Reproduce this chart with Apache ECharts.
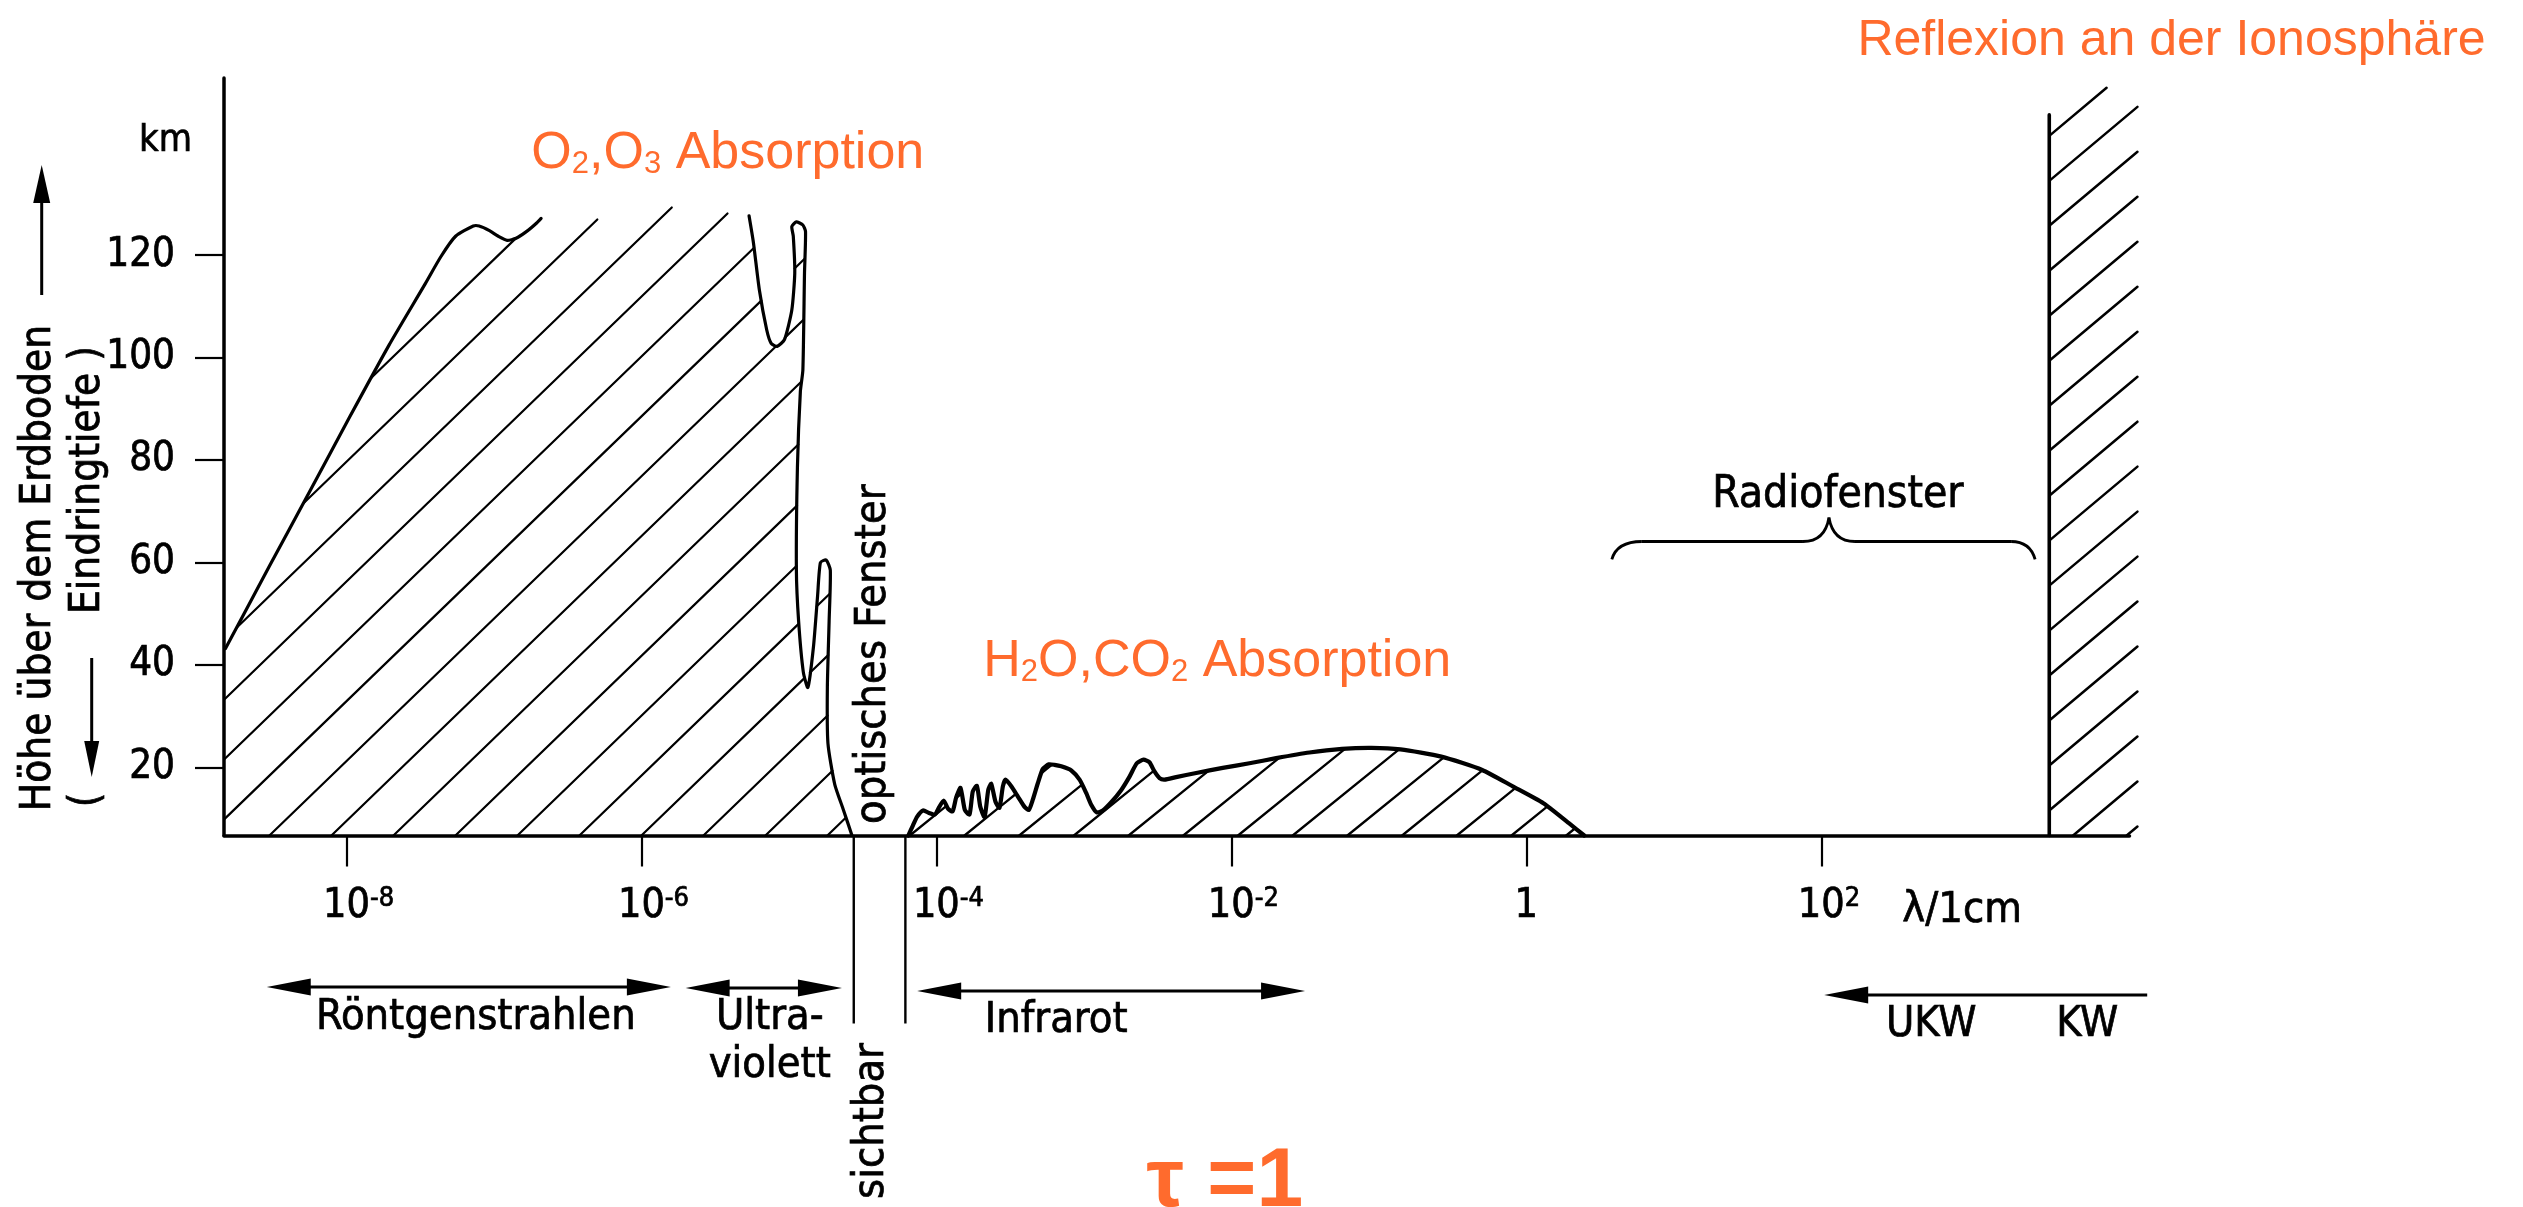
<!DOCTYPE html>
<html lang="de">
<head>
<meta charset="utf-8">
<title>Eindringtiefe elektromagnetischer Strahlung in die Erdatmosphäre</title>
<script src="https://cdn.jsdelivr.net/npm/echarts@6/dist/echarts.min.js"></script>
<style>
  html, body { margin: 0; padding: 0; background: #fff; }
  #chart { width: 2523px; height: 1207px; }
</style>
</head>
<body>
<div id="chart"></div>
<script>
// Height above ground (km) down to which radiation penetrates the atmosphere (tau = 1),
// against wavelength. The x axis is log10(lambda / 1 cm).

// ---- axes --------------------------------------------------------------
const X_MIN = -8.83, X_MAX = 4.09;      // log10(λ / cm)
const Y_MIN = 6.7,   Y_MAX = 154.6;     // km
const X_TICKS = [-8, -6, -4, -2, 0, 2];
const Y_TICKS = [20, 40, 60, 80, 100, 120];

// ---- O2/O3 absorption: [log10 λ, km] ----------------------------------
const O2_EDGE_XRAY = [
  [-8.82, 43.2], [-8.52, 59.4], [-8.25, 73.8], [-7.98, 88.3], [-7.71, 102.5],
  [-7.47, 114.2], [-7.36, 119.7], [-7.26, 123.7], [-7.14, 125.7], [-7.10, 125.7],
  [-7.03, 124.8], [-6.97, 123.7], [-6.91, 122.9], [-6.85, 123.3], [-6.78, 124.6],
  [-6.71, 126.3], [-6.68, 127.2]
];
const O2_EDGE_TOP = [[-6.33, 126.8], [-5.85, 129.5], [-5.47, 128.3]];
const O2_EDGE_UV = [
  [-5.27, 127.7], [-5.24, 122.4], [-5.20, 113.2], [-5.15, 105.4], [-5.12, 102.8],
  [-5.08, 102.2], [-5.03, 103.5], [-4.98, 109.3], [-4.96, 116.5], [-4.97, 123.7],
  [-4.98, 125.6], [-4.95, 126.5], [-4.905, 125.9], [-4.887, 124.6], [-4.894, 116.5],
  [-4.905, 97.6], [-4.922, 93.4], [-4.942, 78.5], [-4.949, 58.5], [-4.934, 48.6],
  [-4.902, 38.6], [-4.871, 35.6], [-4.833, 43.6], [-4.805, 53.6], [-4.786, 60.0],
  [-4.747, 60.5], [-4.719, 58.5], [-4.727, 48.6], [-4.739, 35.6], [-4.735, 24.7],
  [-4.689, 16.7], [-4.63, 11.7], [-4.572, 6.7]
];

// ---- H2O/CO2 absorption -------------------------------------------------
const IR_EDGE = [
  [-4.19, 6.7], [-4.16, 8.6], [-4.13, 10.4], [-4.09, 11.6], [-4.05, 11.1],
  [-4.01, 10.8], [-3.98, 12.3], [-3.95, 13.5], [-3.92, 11.9], [-3.89, 11.4],
  [-3.865, 14.2], [-3.836, 16.0], [-3.807, 11.7], [-3.775, 10.8], [-3.753, 15.3],
  [-3.725, 16.4], [-3.702, 12.3], [-3.673, 10.3], [-3.648, 15.6], [-3.628, 16.8],
  [-3.599, 13.3], [-3.572, 12.1], [-3.549, 16.3], [-3.531, 17.6], [-3.492, 16.3],
  [-3.447, 14.3], [-3.402, 12.3], [-3.373, 11.7], [-3.346, 13.7], [-3.312, 16.9],
  [-3.278, 19.7], [-3.237, 20.6], [-3.199, 20.5], [-3.153, 20.2], [-3.085, 19.4],
  [-3.029, 17.6], [-2.984, 15.0], [-2.950, 12.7], [-2.912, 11.2], [-2.871, 11.6],
  [-2.814, 13.2], [-2.746, 15.6], [-2.690, 18.2], [-2.641, 20.8], [-2.595, 21.5],
  [-2.555, 21.0], [-2.521, 19.2], [-2.487, 17.9], [-2.453, 17.6], [-2.374, 18.1],
  [-2.238, 18.9], [-2.058, 19.9], [-1.877, 20.8], [-1.696, 21.8], [-1.47, 22.9],
  [-1.25, 23.6], [-1.05, 23.8], [-0.853, 23.5], [-0.576, 22.1], [-0.299, 19.5],
  [-0.092, 16.3], [0.116, 13.0], [0.289, 9.1], [0.393, 6.7]
];

// ---- reflection at the ionosphere ----------------------------------------
const IONO_EDGE = [[3.546, 6.7], [3.546, 147.4]];
const IONO_FAR = [[3.95, 152.9], [4.144, 152.9], [4.144, 6.7]];

// ---- wavelength ranges, log10(λ / cm) -------------------------------------
const BAND_ROENTGEN = [-8.54, -5.80];
const BAND_UV = [-5.70, -4.64];
const BAND_VISIBLE = [-4.56, -4.21];
const BAND_IR = [-4.13, -1.50];
const BAND_RADIO = [0.58, 3.45];
const BAND_UKW_KW = [2.02, 4.21];

// ---- styling -------------------------------------------------------------
const INK = '#000';
const ORANGE = '#FF6B2D';
const LETTER = "'DejaVu Sans Condensed', 'DejaVu Sans', sans-serif";
const NOTE = "'Liberation Sans', Arial, sans-serif";
const INK_EDGE = 0.7;   // slight outline that gives the lettering its pen weight

const HATCH = {
  o2:   { angle: 44, spacing: 62,   anchor: [-8.522, Y_MIN], width: 2.2 },
  ir:   { angle: 39, spacing: 54.7, anchor: [-3.809, Y_MIN], width: 2.3 },
  iono: { angle: 40, spacing: 53.6, anchor: [3.546, 143.3],  width: 2.5 }
};

const REGIONS = [
  { outline: [[X_MIN, Y_MIN], ...O2_EDGE_XRAY, ...O2_EDGE_TOP, ...O2_EDGE_UV],
    edges: [O2_EDGE_XRAY, O2_EDGE_UV], edgeWidth: 3.2, smooth: 0.2, hatch: HATCH.o2 },
  { outline: IR_EDGE, edges: [IR_EDGE], edgeWidth: 4.2, smooth: 0.2, hatch: HATCH.ir },
  { outline: [...IONO_EDGE, ...IONO_FAR], edges: [IONO_EDGE], edgeWidth: 3.6, smooth: 0, hatch: HATCH.iono }
];

// parallel hatch lines clipped to a polygon (pixel space)
function hatchPath(pts, angleDeg, hSpacing, anchor) {
  const a = angleDeg * Math.PI / 180;
  const nx = Math.sin(a), ny = Math.cos(a);
  const dx = Math.cos(a), dy = -Math.sin(a);
  const step = hSpacing * Math.sin(a);
  const c0 = nx * anchor[0] + ny * anchor[1];
  let cmin = Infinity, cmax = -Infinity;
  pts.forEach(p => {
    const c = nx * p[0] + ny * p[1];
    cmin = Math.min(cmin, c); cmax = Math.max(cmax, c);
  });
  let d = '';
  for (let k = Math.ceil((cmin - c0) / step); k <= Math.floor((cmax - c0) / step); k++) {
    const c = c0 + k * step;
    const hits = [];
    for (let i = 0; i < pts.length; i++) {
      const p1 = pts[i], p2 = pts[(i + 1) % pts.length];
      const f1 = nx * p1[0] + ny * p1[1] - c, f2 = nx * p2[0] + ny * p2[1] - c;
      if ((f1 < 0) !== (f2 < 0)) {
        const t = f1 / (f1 - f2);
        const x = p1[0] + t * (p2[0] - p1[0]), y = p1[1] + t * (p2[1] - p1[1]);
        hits.push([dx * x + dy * y, x, y]);
      }
    }
    hits.sort((u, v) => u[0] - v[0]);
    for (let j = 0; j + 1 < hits.length; j += 2) {
      d += 'M' + hits[j][1].toFixed(2) + ' ' + hits[j][2].toFixed(2) +
           'L' + hits[j + 1][1].toFixed(2) + ' ' + hits[j + 1][2].toFixed(2);
    }
  }
  return d;
}

const measureCtx = document.createElement('canvas').getContext('2d');
function textWidth(str, font) { measureCtx.font = font; return measureCtx.measureText(str).width; }
const SUP_SIZE = 27;
const supFont = SUP_SIZE + 'px ' + LETTER;

const chart = echarts.init(document.getElementById('chart'), null, { renderer: 'canvas' });

const inkText = { textBorderColor: INK, textBorderWidth: INK_EDGE };

const option = {
  animation: false,
  backgroundColor: '#fff',
  grid: { left: 224, right: 393.5, top: 78, bottom: 371.5, containLabel: false, outerBoundsMode: 'none' },
  xAxis: {
    type: 'value', min: X_MIN, max: X_MAX,
    axisLine: { show: true, onZero: false, lineStyle: { color: INK, width: 3.5 } },
    axisTick: { show: true, customValues: X_TICKS, length: 31, lineStyle: { color: INK, width: 2.2 } },
    axisLabel: {
      customValues: X_TICKS, margin: 50, color: INK,
      formatter: v => v === 0 ? '{b|1}' : '{' + (v < 0 ? 'gn' : 'gp') + '|}{b|10}{s|' + v + '}',
      rich: {
        b: Object.assign({ fontSize: 41, lineHeight: 42, fontFamily: LETTER, color: INK }, inkText),
        s: Object.assign({ fontSize: SUP_SIZE, lineHeight: SUP_SIZE, verticalAlign: 'top', fontFamily: LETTER, color: INK }, inkText),
        gn: { width: textWidth('-8', supFont) },
        gp: { width: textWidth('2', supFont) }
      }
    },
    splitLine: { show: false }
  },
  yAxis: {
    type: 'value', min: Y_MIN, max: Y_MAX,
    axisLine: { show: true, onZero: false, lineStyle: { color: INK, width: 3.5 } },
    axisTick: { show: true, customValues: Y_TICKS, length: 29, lineStyle: { color: INK, width: 2.2 } },
    axisLabel: Object.assign({ customValues: Y_TICKS, margin: 49, color: INK, fontSize: 40, fontFamily: LETTER }, inkText),
    splitLine: { show: false }
  },
  series: [{
    type: 'custom',
    coordinateSystem: 'cartesian2d',
    silent: true,
    clip: false,
    data: REGIONS.map((r, i) => [r.outline[0][0], r.outline[0][1], i]),
    encode: { x: 0, y: 1 },
    renderItem: (params, api) => {
      const r = REGIONS[params.dataIndex];
      const toPx = p => api.coord(p);
      const poly = r.outline.map(toPx);
      const children = [{
        type: 'path',
        shape: { pathData: hatchPath(poly, r.hatch.angle, r.hatch.spacing, toPx(r.hatch.anchor)) },
        style: { stroke: INK, lineWidth: r.hatch.width, fill: null, lineCap: 'round' }
      }];
      r.edges.forEach(e => children.push({
        type: 'polyline',
        shape: { points: e.map(toPx), smooth: r.smooth },
        style: { stroke: INK, lineWidth: r.edgeWidth, fill: null, lineJoin: 'round', lineCap: 'round' }
      }));
      return { type: 'group', children };
    }
  }]
};
chart.setOption(option);

// ---- annotations, placed from the axis scales -----------------------------
const P = (x, y) => chart.convertToPixel({ xAxisIndex: 0, yAxisIndex: 0 }, [x, y]);
const X = d => P(d, Y_MIN)[0];
const baseY = P(X_MIN, Y_MIN)[1];
const axisX = P(X_MIN, Y_MIN)[0];
const topY = P(X_MIN, Y_MAX)[1];

const g = [];
const seg = (x1, y1, x2, y2, w) => ({ type: 'line', silent: true, shape: { x1, y1, x2, y2 }, style: { stroke: INK, lineWidth: w } });
const head = (tx, ty, ux, uy, len, half) => {
  const bx = tx - ux * len, by = ty - uy * len;
  return { type: 'polygon', silent: true,
    shape: { points: [[tx, ty], [bx - uy * half, by + ux * half], [bx + uy * half, by - ux * half]] },
    style: { fill: INK } };
};
const txt = (x, y, text, font, o = {}) => {
  const ink = !o.fill;
  return {
    type: 'text', silent: true, x, y, rotation: o.rot || 0,
    style: {
      text, font, fill: o.fill || INK, align: o.align || 'center', verticalAlign: 'middle', rich: o.rich,
      stroke: ink ? INK : null, lineWidth: ink ? INK_EDGE : 0
    }
  };
};
const ROT = Math.PI / 2;

// y axis title
g.push(txt(axisX - 185, 568, 'Höhe über dem Erdboden', '42px ' + LETTER, { rot: ROT }));
g.push(seg(axisX - 182.3, 295, axisX - 182.3, 200, 3));
g.push(head(axisX - 182.3, topY + 87, 0, -1, 38, 8.5));
g.push(txt(axisX - 136, 480, 'Eindringtiefe )', '42px ' + LETTER, { rot: ROT }));
g.push(txt(axisX - 136, 800, '(', '42px ' + LETTER, { rot: ROT }));
g.push(seg(axisX - 132.3, 658, axisX - 132.3, 745, 3));
g.push(head(axisX - 132.3, 777, 0, 1, 36, 7.5));
g.push(txt(axisX - 85, topY + 63.5, 'km', '38px ' + LETTER, { align: 'left' }));

// x axis name
g.push(txt(X(2.55), baseY + 75.5, 'λ/1cm', '43px ' + LETTER, { align: 'left' }));

// wavelength ranges below the axis
function doubleArrow(band, y, both) {
  const x1 = X(band[0]), x2 = X(band[1]);
  g.push(seg(x1 + 30, y, both ? x2 - 30 : x2, y, 3.2));
  g.push(head(x1, y, -1, 0, 44, 8.5));
  if (both) g.push(head(x2, y, 1, 0, 44, 8.5));
}
doubleArrow(BAND_ROENTGEN, baseY + 151.5, true);
doubleArrow(BAND_UV, baseY + 152.5, true);
doubleArrow(BAND_IR, baseY + 155.5, true);
doubleArrow(BAND_UKW_KW, baseY + 159.5, false);

g.push(txt((X(BAND_ROENTGEN[0]) + X(BAND_ROENTGEN[1])) / 2 + 7, baseY + 182, 'Röntgenstrahlen', '43px ' + LETTER));
g.push(txt((X(BAND_UV[0]) + X(BAND_UV[1])) / 2 + 6, baseY + 182, 'Ultra-', '43px ' + LETTER));
g.push(txt((X(BAND_UV[0]) + X(BAND_UV[1])) / 2 + 6, baseY + 230, 'violett', '43px ' + LETTER));
g.push(txt(X(BAND_IR[0]) + 139, baseY + 185, 'Infrarot', '43px ' + LETTER));
g.push(txt(X(BAND_UKW_KW[0]) + 107, baseY + 189.5, 'UKW', '43px ' + LETTER));
g.push(txt(X(BAND_UKW_KW[0]) + 263, baseY + 189.5, 'KW', '43px ' + LETTER));

// visible window
BAND_VISIBLE.forEach(d => g.push(seg(X(d), baseY, X(d), baseY + 188, 2.4)));
const visMid = (X(BAND_VISIBLE[0]) + X(BAND_VISIBLE[1])) / 2;
g.push(txt(visMid - 6, P(0, 42.1)[1], 'optisches Fenster', '43px ' + LETTER, { rot: ROT }));
g.push(txt(visMid - 8, baseY + 285.5, 'sichtbar', '43px ' + LETTER, { rot: ROT }));

// radio window brace
(function () {
  const xL = X(BAND_RADIO[0]), xR = X(BAND_RADIO[1]);
  const xP = xL + 0.513 * (xR - xL);
  const yEnd = P(0, 60.6)[1], yFlat = P(0, 64.1)[1], yPeak = P(0, 68.8)[1];
  const st = { stroke: INK, lineWidth: 2.8, fill: null };
  const bz = (x1, y1, cx, cy, x2, y2) => ({ type: 'bezierCurve', silent: true, shape: { x1, y1, cpx1: cx, cpy1: cy, x2, y2 }, style: st });
  g.push(bz(xL, yEnd, xL + 5, yFlat, xL + 30, yFlat));
  g.push(seg(xL + 30, yFlat, xP - 26, yFlat, 2.8));
  g.push(bz(xP - 26, yFlat, xP - 4, yFlat, xP, yPeak));
  g.push(bz(xP, yPeak, xP + 4, yFlat, xP + 26, yFlat));
  g.push(seg(xP + 26, yFlat, xR - 24, yFlat, 2.8));
  g.push(bz(xR - 24, yFlat, xR - 5, yFlat, xR, yEnd));
  g.push(txt(xP + 9, P(0, 70.1)[1] - 15, 'Radiofenster', '44px ' + LETTER));
})();

// orange notes
const chem = {
  t: { font: '52px ' + NOTE, fill: ORANGE },
  s: { font: '31px ' + NOTE, fill: ORANGE, verticalAlign: 'bottom' }
};
const o2 = P(-6.746, 136.3);
g.push(txt(o2[0], o2[1] - 18, '{t|O}{s|2}{t|,O}{s|3}{t| Absorption}', '52px ' + NOTE, { align: 'left', fill: ORANGE, rich: chem }));
const ir = P(-3.682, 37.1);
g.push(txt(ir[0], ir[1] - 18, '{t|H}{s|2}{t|O,CO}{s|2}{t| Absorption}', '52px ' + NOTE, { align: 'left', fill: ORANGE, rich: chem }));
const iono = P(2.245, 158.5);
g.push(txt(iono[0], iono[1] - 17.3, 'Reflexion an der Ionosphäre', '50px ' + NOTE, { align: 'left', fill: ORANGE }));
g.push(txt(X(-2.575), baseY + 347.5, 'τ =1', 'bold 84px ' + NOTE, { align: 'left', fill: ORANGE }));

chart.setOption({ graphic: g });
</script>
</body>
</html>
